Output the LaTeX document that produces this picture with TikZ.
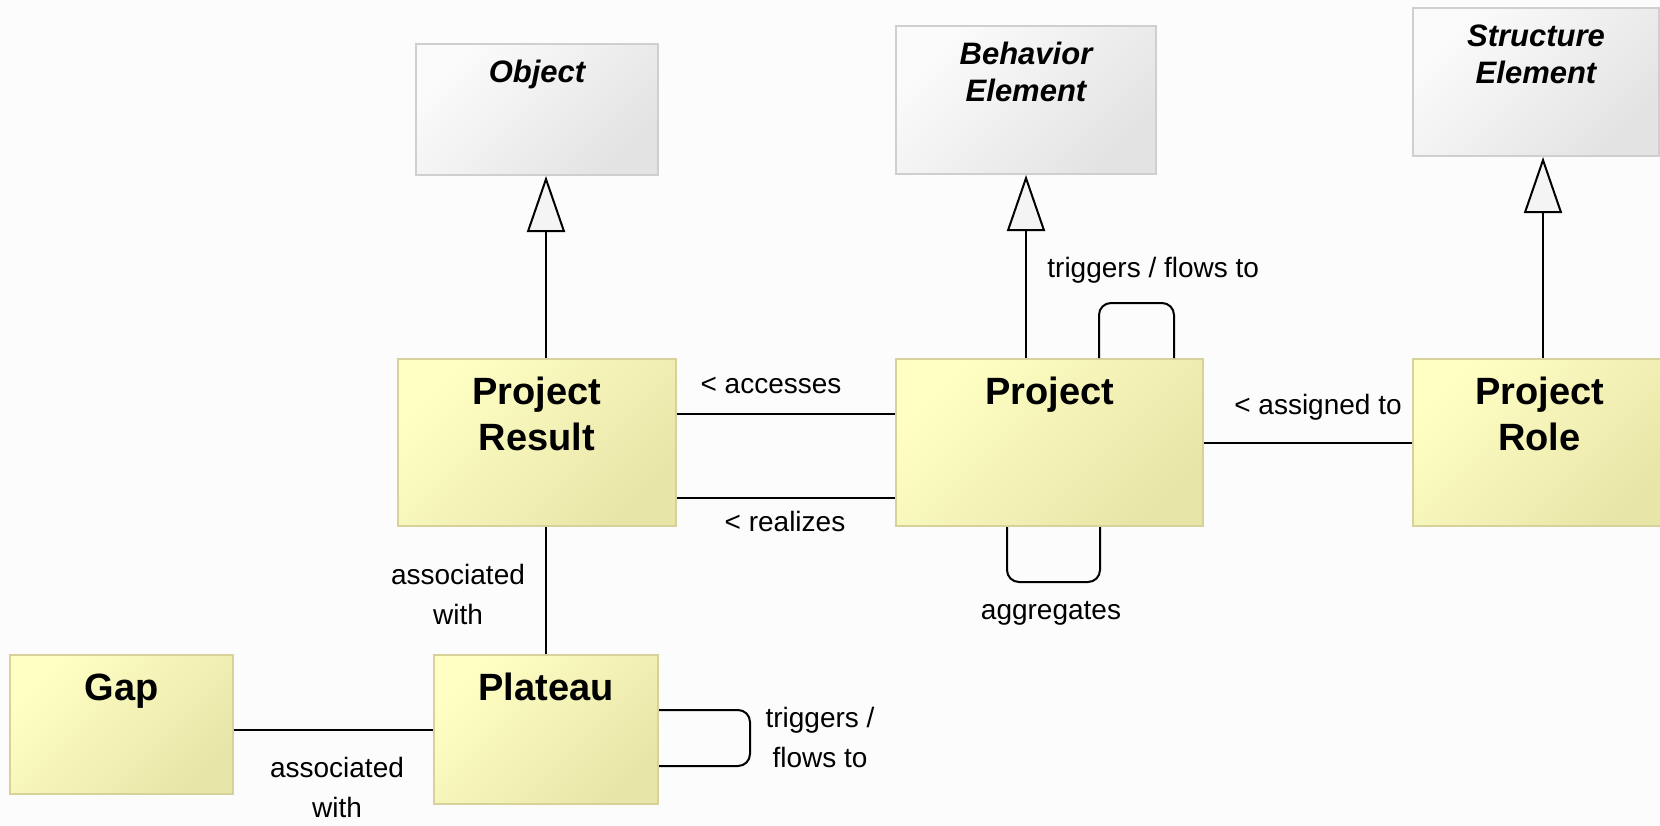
\documentclass[tikz,border=0pt]{standalone}
\usepackage{fontspec}
\setmainfont{Liberation Sans}
\usetikzlibrary{arrows.meta}
\definecolor{boxyellow}{HTML}{FFFFC4}
\definecolor{boxyellowdark}{HTML}{E8E5A8}
\definecolor{boxyellowline}{HTML}{D6D29A}
\definecolor{boxgrey}{HTML}{FBFBFB}
\definecolor{boxgreydark}{HTML}{E3E3E3}
\definecolor{boxgreyline}{HTML}{CFCFCF}
\definecolor{pagegrey}{HTML}{FCFCFC}
\begin{document}
\begin{tikzpicture}[
    x=0.5pt, y=-0.5pt,
    every node/.style={align=center, inner sep=0pt},
    yellow box/.style={draw=boxyellowline, line width=1pt, left color=boxyellow, right color=boxyellowdark, shading angle=45, anchor=north west, font=\fontsize{19}{23}\selectfont\bfseries, text height=22.5pt},
    grey box/.style={draw=boxgreyline, line width=1pt, left color=boxgrey, right color=boxgreydark, shading angle=45, anchor=north west, font=\fontsize{15.5}{18.5}\selectfont\bfseries\itshape, text height=19pt},
    plain line/.style={draw, line width=1pt},
    spec arrow/.style={draw, line width=1pt, -{Triangle[length=28pt, width=19pt, fill=boxgrey!70!boxgreydark]}},
    loop line/.style={draw, line width=1pt, rounded corners=6pt},
    edge label/.style={font=\fontsize{14}{20}\selectfont},
    ]
\fill[pagegrey] (0,0) rectangle (1660,825);
\useasboundingbox (0,0) rectangle (1660,825);
\node[grey box, text width=121pt, text depth=46.5pt] (Object) at (415,43) {Object};
\node[grey box, text width=130pt, text depth=55pt] (BehaviorElement) at (895,25) {Behavior\\Element};
\node[grey box, text width=123pt, text depth=55pt] (StructureElement) at (1412,7) {Structure\\Element};
\node[yellow box, text width=139pt, text depth=61pt] (ProjectResult) at (397,358) {Project\\Result};
\node[yellow box, text width=153.5pt, text depth=61pt] (Project) at (895,358) {Project};
\node[yellow box, text width=126.5pt, text depth=61pt] (ProjectRole) at (1412,358) {Project\\Role};
\node[yellow box, text width=111.5pt, text depth=47pt] (Gap) at (9,654) {Gap};
\node[yellow box, text width=112pt, text depth=52pt] (Plateau) at (433,654) {Plateau};
\draw[spec arrow] ([xshift=4.5pt]ProjectResult.north) -- ([xshift=4.5pt]ProjectResult.north |- Object.south);
\draw[spec arrow] (Project.north -| BehaviorElement.south) -- (BehaviorElement.south);
\draw[spec arrow] ([xshift=1.75pt]ProjectRole.north) -- ([xshift=1.75pt]ProjectRole.north |- StructureElement.south);
\draw[plain line] ([yshift=14.25pt]ProjectResult.east) -- ([yshift=14.25pt]ProjectResult.east -| Project.west);
\draw[plain line] ([yshift=-27.75pt]ProjectResult.east) -- ([yshift=-27.75pt]ProjectResult.east -| Project.west);
\draw[plain line] (Project.east) -- (ProjectRole.west);
\draw[plain line] (Plateau.north) -- (Plateau.north |- ProjectResult.south);
\draw[plain line] (Plateau.west) -- (Plateau.west -| Gap.east);
\draw[loop line] ([xshift=24.75pt]Project.north) -- ++(0,-55) -| ([xshift=62.25pt]Project.north);
\draw[loop line] ([xshift=-21.25pt]Project.south) -- ++(0,55) -| ([xshift=25.25pt]Project.south);
\draw[loop line] ([yshift=9.75pt]Plateau.east) -- ++(91,0) |- ([yshift=-18.25pt]Plateau.east);
\node[edge label, anchor=base] (accesses) at (771,393) {< accesses};
\node[edge label, anchor=base] (realizes) at (785,531) {< realizes};
\node[edge label, anchor=base] (assignedTo) at (1318,414) {< assigned to};
\node[edge label, anchor=base west] (triggersFlowsTo) at (1047,277) {triggers / flows to};
\node[edge label, anchor=base] (aggregates) at (1051,619) {aggregates};
\node[edge label, anchor=north] (associatedWith) at (458,564) {associated\\with};
\node[edge label, anchor=north] (associatedWithB) at (337,757) {associated\\with};
\node[edge label, anchor=north] (triggersFlowsToB) at (820,707) {triggers /\\flows to};
\end{tikzpicture}
\end{document}
